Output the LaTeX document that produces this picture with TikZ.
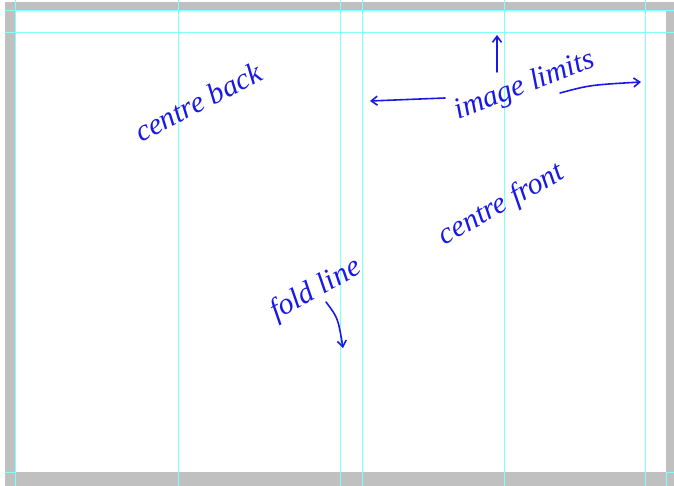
\documentclass[tikz,border=0pt]{standalone}
\usepackage{fontspec}
\setmainfont{Liberation Serif}
\usetikzlibrary{arrows.meta}
\definecolor{frame}{RGB}{192,192,192}
\definecolor{guide}{RGB}{128,255,255}
\definecolor{ink}{RGB}{25,25,230}
\tikzset{
  guideline/.style={draw=guide, line width=1pt},
  hand/.style={text=ink, font=\itshape\fontsize{30}{30}\selectfont, inner sep=0pt},
  inkarrow/.style={draw=ink, line width=1.6pt, line cap=round, -{Straight Barb[length=6pt,width=9pt]}}
}
\begin{document}
\begin{tikzpicture}[x=1pt,y=-1pt]
\useasboundingbox (0,0) rectangle (674,486);
\fill[white] (0,0) rectangle (674,486);
% gray frame
\fill[frame] (5,2) rectangle (674,486);
\fill[white] (15,11) rectangle (666,472);
% guides
\foreach \gx in {15,178,340,362,504,645} {\draw[guideline] (\gx,0) -- (\gx,486);}
\draw[guideline] (5,11) -- (674,11);
\draw[guideline] (5,33) -- (674,33);
\draw[guideline] (5,472) -- (15,472);
\draw[guideline] (666,472) -- (674,472);
\draw[guideline] (666,472) -- (666,486);
% handwritten labels
\node[hand, rotate=27] (back) at (198,102) {centre back};
\node[hand, rotate=21] (limits) at (525,86) {image limits};
\node[hand, rotate=29] (front) at (502,205) {centre front};
\node[hand, rotate=29] (fold) at (316,290) {fold line};
% arrows
\coordinate (upend) at (497,35);
\coordinate (leftstart) at (445,98);
\coordinate (leftend) at (370,101);
\coordinate (rightstart) at (560,93);
\coordinate (rightend) at (641,82);
\coordinate (foldstart) at (326,302);
\coordinate (foldend) at (343,348);
\draw[inkarrow] (497,72) -- (upend);
\draw[inkarrow] (leftstart) -- (leftend);
\draw[inkarrow] (rightstart) .. controls (590,85) .. (rightend);
\draw[inkarrow] (foldstart) .. controls (338,318) .. (foldend);
\end{tikzpicture}
\end{document}
